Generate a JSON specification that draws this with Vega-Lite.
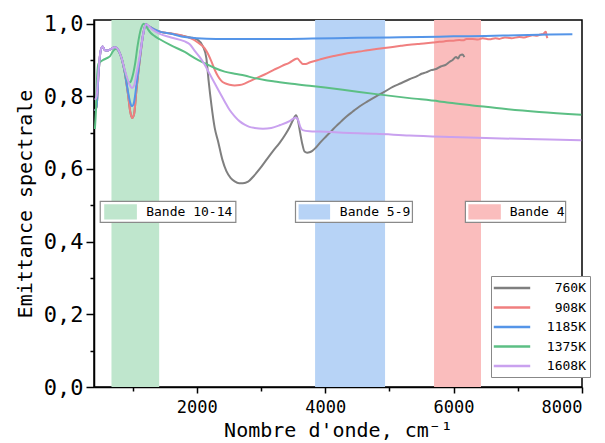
{
  "$schema": "https://vega.github.io/schema/vega-lite/v6.json",
  "width": 488,
  "height": 367,
  "autosize": {"type": "none"},
  "padding": {"left": 94, "top": 20, "right": 23, "bottom": 56},
  "background": "white",
  "config": {
    "font": "DejaVu Sans Mono",
    "view": {"stroke": "#000000", "strokeWidth": 1.5},
    "axis": {"domainColor": "#000000", "domainWidth": 1.5, "tickColor": "#000000", "tickWidth": 1.5, "labelColor": "#000000", "titleColor": "#000000", "grid": false, "labelFont": "DejaVu Sans Mono", "titleFont": "DejaVu Sans Mono", "titleFontWeight": "normal"}
  },
  "datasets": {
    "bands": [
      {"band": "Bande 10-14", "x0": 672, "x1": 1415},
      {"band": "Bande 5-9", "x0": 3843, "x1": 4933},
      {"band": "Bande 4", "x0": 5696, "x1": 6427}
    ],
    "boxes": [
      {"band": "Bande 10-14", "bx0": 497, "bx1": 2609, "by0": 0.453, "by1": 0.511, "sx0": 559, "sx1": 1068, "sy0": 0.461, "sy1": 0.503, "tx": 1213, "ty": 0.482},
      {"band": "Bande 5-9", "bx0": 3538, "bx1": 5359, "by0": 0.453, "by1": 0.511, "sx0": 3586, "sx1": 4077, "sy0": 0.461, "sy1": 0.503, "tx": 4229, "ty": 0.482},
      {"band": "Bande 4", "bx0": 6184, "bx1": 7745, "by0": 0.453, "by1": 0.511, "sx0": 6230, "sx1": 6736, "sy0": 0.461, "sy1": 0.503, "tx": 6874, "ty": 0.482}
    ],
    "curves": [
      {"T": "760K", "x": 414, "y": 0.760}, {"T": "760K", "x": 440, "y": 0.772}, {"T": "760K", "x": 470, "y": 0.860}, {"T": "760K", "x": 500, "y": 0.922}, {"T": "760K", "x": 533, "y": 0.937}, {"T": "760K", "x": 570, "y": 0.927}, {"T": "760K", "x": 620, "y": 0.926}, {"T": "760K", "x": 680, "y": 0.932}, {"T": "760K", "x": 725, "y": 0.935}, {"T": "760K", "x": 780, "y": 0.927}, {"T": "760K", "x": 830, "y": 0.905}, {"T": "760K", "x": 880, "y": 0.865}, {"T": "760K", "x": 930, "y": 0.805}, {"T": "760K", "x": 965, "y": 0.757}, {"T": "760K", "x": 994, "y": 0.740}, {"T": "760K", "x": 1025, "y": 0.752}, {"T": "760K", "x": 1062, "y": 0.820}, {"T": "760K", "x": 1113, "y": 0.900}, {"T": "760K", "x": 1165, "y": 0.970}, {"T": "760K", "x": 1207, "y": 0.998}, {"T": "760K", "x": 1250, "y": 0.993}, {"T": "760K", "x": 1330, "y": 0.985}, {"T": "760K", "x": 1424, "y": 0.978}, {"T": "760K", "x": 1600, "y": 0.973}, {"T": "760K", "x": 1813, "y": 0.965},
      {"T": "760K", "x": 1900, "y": 0.962}, {"T": "760K", "x": 2018, "y": 0.955}, {"T": "760K", "x": 2098, "y": 0.937}, {"T": "760K", "x": 2150, "y": 0.905}, {"T": "760K", "x": 2186, "y": 0.841}, {"T": "760K", "x": 2228, "y": 0.777}, {"T": "760K", "x": 2280, "y": 0.713}, {"T": "760K", "x": 2331, "y": 0.677}, {"T": "760K", "x": 2400, "y": 0.625}, {"T": "760K", "x": 2462, "y": 0.594}, {"T": "760K", "x": 2530, "y": 0.575}, {"T": "760K", "x": 2591, "y": 0.566}, {"T": "760K", "x": 2660, "y": 0.561}, {"T": "760K", "x": 2720, "y": 0.561}, {"T": "760K", "x": 2800, "y": 0.565}, {"T": "760K", "x": 2875, "y": 0.578}, {"T": "760K", "x": 2980, "y": 0.600}, {"T": "760K", "x": 3084, "y": 0.625}, {"T": "760K", "x": 3190, "y": 0.650}, {"T": "760K", "x": 3291, "y": 0.672}, {"T": "760K", "x": 3380, "y": 0.695}, {"T": "760K", "x": 3446, "y": 0.715}, {"T": "760K", "x": 3500, "y": 0.735}, {"T": "760K", "x": 3545, "y": 0.748}, {"T": "760K", "x": 3575, "y": 0.735}, {"T": "760K", "x": 3610, "y": 0.700}, {"T": "760K", "x": 3645, "y": 0.668}, {"T": "760K", "x": 3679, "y": 0.648}, {"T": "760K", "x": 3720, "y": 0.645}, {"T": "760K", "x": 3757, "y": 0.646}, {"T": "760K", "x": 3800, "y": 0.650}, {"T": "760K", "x": 3861, "y": 0.660}, {"T": "760K", "x": 3940, "y": 0.676}, {"T": "760K", "x": 4017, "y": 0.690}, {"T": "760K", "x": 4100, "y": 0.705}, {"T": "760K", "x": 4172, "y": 0.718}, {"T": "760K", "x": 4250, "y": 0.731}, {"T": "760K", "x": 4328, "y": 0.744}, {"T": "760K", "x": 4430, "y": 0.758}, {"T": "760K", "x": 4534, "y": 0.772}, {"T": "760K", "x": 4660, "y": 0.786}, {"T": "760K", "x": 4794, "y": 0.800}, {"T": "760K", "x": 4920, "y": 0.812}, {"T": "760K", "x": 5052, "y": 0.826}, {"T": "760K", "x": 5180, "y": 0.836}, {"T": "760K", "x": 5312, "y": 0.847}, {"T": "760K", "x": 5440, "y": 0.856}, {"T": "760K", "x": 5500, "y": 0.862}, {"T": "760K", "x": 5572, "y": 0.866}, {"T": "760K", "x": 5650, "y": 0.872}, {"T": "760K", "x": 5727, "y": 0.875}, {"T": "760K", "x": 5800, "y": 0.882}, {"T": "760K", "x": 5883, "y": 0.887}, {"T": "760K", "x": 5940, "y": 0.895}, {"T": "760K", "x": 5985, "y": 0.900}, {"T": "760K", "x": 6038, "y": 0.908}, {"T": "760K", "x": 6070, "y": 0.904}, {"T": "760K", "x": 6100, "y": 0.913}, {"T": "760K", "x": 6140, "y": 0.915}, {"T": "760K", "x": 6167, "y": 0.908},
      {"T": "908K", "x": 414, "y": 0.760}, {"T": "908K", "x": 440, "y": 0.772}, {"T": "908K", "x": 470, "y": 0.860}, {"T": "908K", "x": 500, "y": 0.922}, {"T": "908K", "x": 533, "y": 0.937}, {"T": "908K", "x": 570, "y": 0.927}, {"T": "908K", "x": 620, "y": 0.926}, {"T": "908K", "x": 680, "y": 0.932}, {"T": "908K", "x": 725, "y": 0.935}, {"T": "908K", "x": 780, "y": 0.927}, {"T": "908K", "x": 830, "y": 0.905}, {"T": "908K", "x": 880, "y": 0.865}, {"T": "908K", "x": 930, "y": 0.805}, {"T": "908K", "x": 965, "y": 0.757}, {"T": "908K", "x": 994, "y": 0.740}, {"T": "908K", "x": 1025, "y": 0.752}, {"T": "908K", "x": 1062, "y": 0.820}, {"T": "908K", "x": 1113, "y": 0.900}, {"T": "908K", "x": 1165, "y": 0.970}, {"T": "908K", "x": 1207, "y": 0.998}, {"T": "908K", "x": 1250, "y": 0.993}, {"T": "908K", "x": 1330, "y": 0.985}, {"T": "908K", "x": 1424, "y": 0.978}, {"T": "908K", "x": 1600, "y": 0.973}, {"T": "908K", "x": 1813, "y": 0.965},
      {"T": "908K", "x": 1900, "y": 0.960}, {"T": "908K", "x": 2018, "y": 0.948}, {"T": "908K", "x": 2124, "y": 0.932}, {"T": "908K", "x": 2180, "y": 0.915}, {"T": "908K", "x": 2228, "y": 0.896}, {"T": "908K", "x": 2280, "y": 0.873}, {"T": "908K", "x": 2331, "y": 0.855}, {"T": "908K", "x": 2380, "y": 0.843}, {"T": "908K", "x": 2435, "y": 0.836}, {"T": "908K", "x": 2510, "y": 0.832}, {"T": "908K", "x": 2591, "y": 0.830}, {"T": "908K", "x": 2670, "y": 0.831}, {"T": "908K", "x": 2746, "y": 0.835}, {"T": "908K", "x": 2830, "y": 0.842}, {"T": "908K", "x": 2902, "y": 0.848}, {"T": "908K", "x": 3057, "y": 0.860}, {"T": "908K", "x": 3213, "y": 0.874}, {"T": "908K", "x": 3330, "y": 0.884}, {"T": "908K", "x": 3446, "y": 0.893}, {"T": "908K", "x": 3530, "y": 0.902}, {"T": "908K", "x": 3565, "y": 0.904}, {"T": "908K", "x": 3610, "y": 0.896}, {"T": "908K", "x": 3650, "y": 0.889}, {"T": "908K", "x": 3700, "y": 0.889}, {"T": "908K", "x": 3757, "y": 0.893}, {"T": "908K", "x": 3808, "y": 0.896}, {"T": "908K", "x": 3912, "y": 0.901}, {"T": "908K", "x": 4017, "y": 0.906}, {"T": "908K", "x": 4140, "y": 0.911}, {"T": "908K", "x": 4275, "y": 0.916}, {"T": "908K", "x": 4400, "y": 0.920}, {"T": "908K", "x": 4534, "y": 0.923}, {"T": "908K", "x": 4660, "y": 0.927}, {"T": "908K", "x": 4794, "y": 0.930}, {"T": "908K", "x": 4920, "y": 0.933}, {"T": "908K", "x": 5052, "y": 0.936}, {"T": "908K", "x": 5180, "y": 0.939}, {"T": "908K", "x": 5312, "y": 0.942}, {"T": "908K", "x": 5440, "y": 0.944}, {"T": "908K", "x": 5572, "y": 0.946}, {"T": "908K", "x": 5680, "y": 0.948}, {"T": "908K", "x": 5778, "y": 0.950}, {"T": "908K", "x": 5850, "y": 0.951}, {"T": "908K", "x": 5934, "y": 0.953}, {"T": "908K", "x": 6000, "y": 0.953}, {"T": "908K", "x": 6089, "y": 0.955}, {"T": "908K", "x": 6150, "y": 0.954}, {"T": "908K", "x": 6200, "y": 0.958}, {"T": "908K", "x": 6296, "y": 0.958}, {"T": "908K", "x": 6380, "y": 0.956}, {"T": "908K", "x": 6452, "y": 0.960}, {"T": "908K", "x": 6560, "y": 0.957}, {"T": "908K", "x": 6650, "y": 0.960}, {"T": "908K", "x": 6711, "y": 0.958}, {"T": "908K", "x": 6800, "y": 0.962}, {"T": "908K", "x": 6900, "y": 0.960}, {"T": "908K", "x": 7022, "y": 0.963}, {"T": "908K", "x": 7100, "y": 0.962}, {"T": "908K", "x": 7180, "y": 0.966}, {"T": "908K", "x": 7229, "y": 0.968}, {"T": "908K", "x": 7300, "y": 0.967}, {"T": "908K", "x": 7350, "y": 0.970}, {"T": "908K", "x": 7400, "y": 0.972}, {"T": "908K", "x": 7438, "y": 0.978}, {"T": "908K", "x": 7450, "y": 0.966}, {"T": "908K", "x": 7462, "y": 0.960},
      {"T": "1185K", "x": 414, "y": 0.760}, {"T": "1185K", "x": 440, "y": 0.772}, {"T": "1185K", "x": 470, "y": 0.860}, {"T": "1185K", "x": 500, "y": 0.922}, {"T": "1185K", "x": 533, "y": 0.937}, {"T": "1185K", "x": 570, "y": 0.927}, {"T": "1185K", "x": 620, "y": 0.926}, {"T": "1185K", "x": 680, "y": 0.932}, {"T": "1185K", "x": 725, "y": 0.935}, {"T": "1185K", "x": 780, "y": 0.927}, {"T": "1185K", "x": 830, "y": 0.905}, {"T": "1185K", "x": 880, "y": 0.865}, {"T": "1185K", "x": 930, "y": 0.812}, {"T": "1185K", "x": 965, "y": 0.782}, {"T": "1185K", "x": 994, "y": 0.773}, {"T": "1185K", "x": 1025, "y": 0.785}, {"T": "1185K", "x": 1062, "y": 0.832}, {"T": "1185K", "x": 1113, "y": 0.905}, {"T": "1185K", "x": 1165, "y": 0.970}, {"T": "1185K", "x": 1207, "y": 0.998}, {"T": "1185K", "x": 1250, "y": 0.993}, {"T": "1185K", "x": 1330, "y": 0.985}, {"T": "1185K", "x": 1424, "y": 0.978}, {"T": "1185K", "x": 1600, "y": 0.972}, {"T": "1185K", "x": 1813, "y": 0.963}, {"T": "1185K", "x": 2000, "y": 0.960}, {"T": "1185K", "x": 2300, "y": 0.958}, {"T": "1185K", "x": 2800, "y": 0.958}, {"T": "1185K", "x": 3300, "y": 0.958}, {"T": "1185K", "x": 3800, "y": 0.959}, {"T": "1185K", "x": 4500, "y": 0.961}, {"T": "1185K", "x": 5000, "y": 0.962}, {"T": "1185K", "x": 5500, "y": 0.963}, {"T": "1185K", "x": 6000, "y": 0.965}, {"T": "1185K", "x": 6500, "y": 0.966}, {"T": "1185K", "x": 7000, "y": 0.968}, {"T": "1185K", "x": 7500, "y": 0.970}, {"T": "1185K", "x": 7850, "y": 0.971},
      {"T": "1375K", "x": 414, "y": 0.710}, {"T": "1375K", "x": 430, "y": 0.760}, {"T": "1375K", "x": 450, "y": 0.860}, {"T": "1375K", "x": 470, "y": 0.890}, {"T": "1375K", "x": 500, "y": 0.895}, {"T": "1375K", "x": 543, "y": 0.900}, {"T": "1375K", "x": 600, "y": 0.905}, {"T": "1375K", "x": 647, "y": 0.910}, {"T": "1375K", "x": 700, "y": 0.925}, {"T": "1375K", "x": 740, "y": 0.930}, {"T": "1375K", "x": 780, "y": 0.925}, {"T": "1375K", "x": 830, "y": 0.905}, {"T": "1375K", "x": 880, "y": 0.870}, {"T": "1375K", "x": 910, "y": 0.849}, {"T": "1375K", "x": 940, "y": 0.837}, {"T": "1375K", "x": 970, "y": 0.840}, {"T": "1375K", "x": 1000, "y": 0.855}, {"T": "1375K", "x": 1040, "y": 0.890}, {"T": "1375K", "x": 1080, "y": 0.940}, {"T": "1375K", "x": 1130, "y": 0.985}, {"T": "1375K", "x": 1175, "y": 1.000}, {"T": "1375K", "x": 1220, "y": 0.990}, {"T": "1375K", "x": 1280, "y": 0.975}, {"T": "1375K", "x": 1350, "y": 0.965}, {"T": "1375K", "x": 1424, "y": 0.957}, {"T": "1375K", "x": 1600, "y": 0.940}, {"T": "1375K", "x": 1813, "y": 0.922}, {"T": "1375K", "x": 1969, "y": 0.905}, {"T": "1375K", "x": 2124, "y": 0.891}, {"T": "1375K", "x": 2280, "y": 0.878}, {"T": "1375K", "x": 2435, "y": 0.868}, {"T": "1375K", "x": 2591, "y": 0.862}, {"T": "1375K", "x": 2746, "y": 0.857}, {"T": "1375K", "x": 2902, "y": 0.850}, {"T": "1375K", "x": 3057, "y": 0.845}, {"T": "1375K", "x": 3213, "y": 0.841}, {"T": "1375K", "x": 3446, "y": 0.835}, {"T": "1375K", "x": 3757, "y": 0.829}, {"T": "1375K", "x": 4000, "y": 0.824}, {"T": "1375K", "x": 4275, "y": 0.818}, {"T": "1375K", "x": 4794, "y": 0.806}, {"T": "1375K", "x": 5312, "y": 0.795}, {"T": "1375K", "x": 5778, "y": 0.786}, {"T": "1375K", "x": 5934, "y": 0.782}, {"T": "1375K", "x": 6296, "y": 0.775}, {"T": "1375K", "x": 6815, "y": 0.765}, {"T": "1375K", "x": 7333, "y": 0.757}, {"T": "1375K", "x": 7990, "y": 0.749},
      {"T": "1608K", "x": 414, "y": 0.790}, {"T": "1608K", "x": 440, "y": 0.800}, {"T": "1608K", "x": 470, "y": 0.870}, {"T": "1608K", "x": 500, "y": 0.922}, {"T": "1608K", "x": 533, "y": 0.937}, {"T": "1608K", "x": 570, "y": 0.927}, {"T": "1608K", "x": 620, "y": 0.926}, {"T": "1608K", "x": 680, "y": 0.932}, {"T": "1608K", "x": 725, "y": 0.935}, {"T": "1608K", "x": 780, "y": 0.927}, {"T": "1608K", "x": 830, "y": 0.905}, {"T": "1608K", "x": 880, "y": 0.872}, {"T": "1608K", "x": 930, "y": 0.843}, {"T": "1608K", "x": 965, "y": 0.828}, {"T": "1608K", "x": 994, "y": 0.823}, {"T": "1608K", "x": 1025, "y": 0.830}, {"T": "1608K", "x": 1062, "y": 0.862}, {"T": "1608K", "x": 1113, "y": 0.912}, {"T": "1608K", "x": 1165, "y": 0.970}, {"T": "1608K", "x": 1207, "y": 0.998}, {"T": "1608K", "x": 1300, "y": 0.985}, {"T": "1608K", "x": 1424, "y": 0.972}, {"T": "1608K", "x": 1600, "y": 0.962}, {"T": "1608K", "x": 1813, "y": 0.951}, {"T": "1608K", "x": 1891, "y": 0.943}, {"T": "1608K", "x": 1969, "y": 0.925}, {"T": "1608K", "x": 2050, "y": 0.907}, {"T": "1608K", "x": 2124, "y": 0.887}, {"T": "1608K", "x": 2200, "y": 0.862}, {"T": "1608K", "x": 2280, "y": 0.836}, {"T": "1608K", "x": 2360, "y": 0.810}, {"T": "1608K", "x": 2435, "y": 0.786}, {"T": "1608K", "x": 2510, "y": 0.763}, {"T": "1608K", "x": 2591, "y": 0.745}, {"T": "1608K", "x": 2670, "y": 0.731}, {"T": "1608K", "x": 2746, "y": 0.722}, {"T": "1608K", "x": 2820, "y": 0.716}, {"T": "1608K", "x": 2902, "y": 0.713}, {"T": "1608K", "x": 3031, "y": 0.711}, {"T": "1608K", "x": 3161, "y": 0.713}, {"T": "1608K", "x": 3300, "y": 0.721}, {"T": "1608K", "x": 3446, "y": 0.732}, {"T": "1608K", "x": 3510, "y": 0.739}, {"T": "1608K", "x": 3545, "y": 0.742}, {"T": "1608K", "x": 3580, "y": 0.734}, {"T": "1608K", "x": 3615, "y": 0.715}, {"T": "1608K", "x": 3650, "y": 0.707}, {"T": "1608K", "x": 3757, "y": 0.704}, {"T": "1608K", "x": 3912, "y": 0.703}, {"T": "1608K", "x": 4275, "y": 0.700}, {"T": "1608K", "x": 4794, "y": 0.697}, {"T": "1608K", "x": 5312, "y": 0.692}, {"T": "1608K", "x": 5934, "y": 0.688}, {"T": "1608K", "x": 6500, "y": 0.685}, {"T": "1608K", "x": 7000, "y": 0.683}, {"T": "1608K", "x": 7500, "y": 0.681}, {"T": "1608K", "x": 7990, "y": 0.679}
    ]
  },
  "resolve": {"axis": {"x": "independent", "y": "independent"}},
  "layer": [
    {
      "data": {"name": "bands"},
      "mark": {"type": "rect"},
      "encoding": {
        "x": {"field": "x0", "type": "quantitative", "scale": {"domain": [400, 8000], "nice": false, "zero": false},
              "axis": {"orient": "bottom", "values": [1000, 3000, 5000, 7000], "labels": false, "domain": false, "tickSize": 4, "title": null}},
        "x2": {"field": "x1"},
        "fill": {"field": "band", "type": "nominal", "scale": {"domain": ["Bande 10-14", "Bande 5-9", "Bande 4"], "range": ["#bfe6cd", "#b7d3f6", "#fabdbd"]}, "legend": null}
      }
    },
    {
      "data": {"name": "curves"},
      "mark": {"type": "line", "strokeWidth": 2, "interpolate": "monotone"},
      "encoding": {
        "x": {"field": "x", "type": "quantitative", "scale": {"domain": [400, 8000], "nice": false, "zero": false},
              "axis": {"orient": "bottom", "values": [2000, 4000, 6000, 8000], "format": "d", "tickSize": 6, "labelFontSize": 17, "labelPadding": 6, "title": "Nombre d'onde, cm⁻¹", "titleFontSize": 20, "titlePadding": 5}},
        "y": {"field": "y", "type": "quantitative", "scale": {"domain": [0, 1.01], "nice": false, "zero": false},
              "axis": {"orient": "left", "values": [0, 0.2, 0.4, 0.6, 0.8, 1.0], "labelExpr": "replace(format(datum.value, '.1f'), '.', ',')", "tickSize": 8, "labelFontSize": 22, "labelPadding": 3, "title": "Emittance spectrale", "titleFontSize": 20, "titlePadding": 8}},
        "stroke": {"field": "T", "type": "nominal",
                   "scale": {"domain": ["760K", "908K", "1185K", "1375K", "1608K"], "range": ["#7f7f7f", "#f07f7f", "#5595e8", "#5cbf84", "#c9a1ef"]},
                   "legend": {"orient": "none", "legendX": 397, "legendY": 256, "title": null, "symbolType": "M-2.8,0H2.8", "symbolStrokeWidth": 2.5, "symbolSize": 169, "symbolOffset": 9, "labelOffset": 66, "labelFontSize": 13, "labelFont": "DejaVu Sans Mono", "labelColor": "#000000", "labelAlign": "right", "strokeColor": "#888888", "fillColor": "#ffffff", "padding": 4, "rowPadding": 4.5}}
      }
    },
    {
      "data": {"name": "boxes"},
      "mark": {"type": "rect", "fill": "#ffffff", "stroke": "#8a8a8a", "strokeWidth": 1.2},
      "encoding": {
        "x": {"field": "bx0", "type": "quantitative", "axis": null},
        "x2": {"field": "bx1"},
        "y": {"field": "by0", "type": "quantitative", "axis": {"orient": "left", "values": [0.1, 0.3, 0.5, 0.7, 0.9], "labels": false, "domain": false, "tickSize": 4, "title": null}},
        "y2": {"field": "by1"}
      }
    },
    {
      "data": {"name": "boxes"},
      "mark": {"type": "rect"},
      "encoding": {
        "x": {"field": "sx0", "type": "quantitative", "axis": null},
        "x2": {"field": "sx1"},
        "y": {"field": "sy0", "type": "quantitative", "axis": null},
        "y2": {"field": "sy1"},
        "fill": {"field": "band", "type": "nominal", "legend": null}
      }
    },
    {
      "data": {"name": "boxes"},
      "mark": {"type": "text", "align": "left", "baseline": "middle", "fontSize": 13, "font": "DejaVu Sans Mono", "color": "#000000"},
      "encoding": {
        "x": {"field": "tx", "type": "quantitative", "axis": null},
        "y": {"field": "ty", "type": "quantitative", "axis": null},
        "text": {"field": "band"}
      }
    }
  ]
}
